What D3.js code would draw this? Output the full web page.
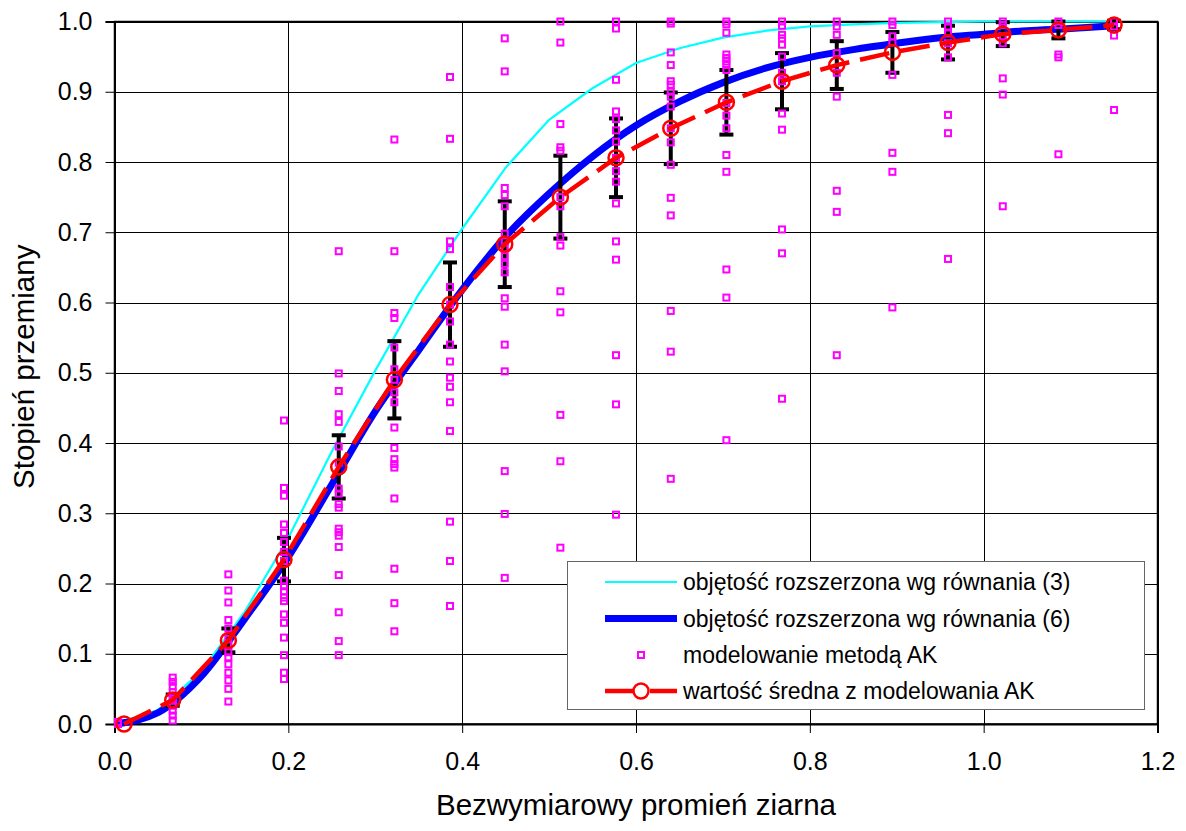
<!DOCTYPE html>
<html>
<head>
<meta charset="utf-8">
<script src="https://cdn.jsdelivr.net/npm/d3@7"></script>
<style>
  html, body { margin: 0; padding: 0; background: #fff; }
  svg { display: block; font-family: "Liberation Sans", Arial, sans-serif; }
</style>
</head>
<body>
<svg id="chart" width="1186" height="831"></svg>
<script>
// ---------------- DATA ----------------
const xTicks = [0.0, 0.2, 0.4, 0.6, 0.8, 1.0, 1.2];
const yTicks = [0.0, 0.1, 0.2, 0.3, 0.4, 0.5, 0.6, 0.7, 0.8, 0.9, 1.0];

const curveX = [0, 0.05, 0.10, 0.15, 0.20, 0.25, 0.30, 0.35, 0.40, 0.45, 0.50, 0.55,
                0.60, 0.65, 0.70, 0.75, 0.80, 0.85, 0.90, 0.95, 1.00, 1.05, 1.10, 1.15];
// objętość rozszerzona wg równania (3)
const eq3Y = [0, 0.020, 0.075, 0.160, 0.265, 0.388, 0.503, 0.612, 0.705, 0.792, 0.860, 0.905,
              0.941, 0.962, 0.977, 0.987, 0.993, 0.996, 0.998, 0.999, 1.000, 1.000, 1.000, 1.000];
// objętość rozszerzona wg równania (6)
const eq6Y = [0, 0.016, 0.068, 0.150, 0.238, 0.341, 0.445, 0.532, 0.618, 0.694, 0.755, 0.808,
              0.852, 0.886, 0.913, 0.934, 0.949, 0.960, 0.969, 0.977, 0.982, 0.987, 0.990, 0.994];

// modelowanie metodą AK: column positions and values
const akX = [0.004, 0.067, 0.131, 0.195, 0.258, 0.322, 0.386, 0.449, 0.513, 0.577,
             0.640, 0.704, 0.768, 0.831, 0.895, 0.959, 1.022, 1.086, 1.150];
const akValues = [
  [0, 0, 0.003],
  [0.066, 0.060, 0.054, 0.045, 0.036, 0.033, 0.026, 0.019, 0.012, 0.005],
  [0.213, 0.190, 0.173, 0.148, 0.136, 0.121, 0.112, 0.102, 0.095, 0.085, 0.073, 0.062, 0.050, 0.032],
  [0.432, 0.336, 0.325, 0.284, 0.272, 0.259, 0.245, 0.232, 0.204, 0.196, 0.189, 0.180, 0.175, 0.156, 0.144, 0.123, 0.098, 0.073, 0.064],
  [0.673, 0.499, 0.474, 0.441, 0.430, 0.395, 0.372, 0.335, 0.328, 0.313, 0.308, 0.278, 0.273, 0.268, 0.252, 0.212, 0.159, 0.118, 0.098],
  [0.832, 0.673, 0.585, 0.578, 0.536, 0.505, 0.490, 0.472, 0.458, 0.422, 0.393, 0.377, 0.370, 0.365, 0.321, 0.221, 0.172, 0.132],
  [0.921, 0.833, 0.687, 0.676, 0.622, 0.597, 0.573, 0.540, 0.516, 0.493, 0.480, 0.458, 0.417, 0.288, 0.232, 0.168],
  [0.976, 0.929, 0.763, 0.753, 0.737, 0.698, 0.687, 0.677, 0.666, 0.655, 0.643, 0.606, 0.594, 0.540, 0.502, 0.360, 0.299, 0.208],
  [1.000, 0.970, 0.854, 0.821, 0.816, 0.750, 0.737, 0.693, 0.681, 0.616, 0.586, 0.440, 0.374, 0.251],
  [1.000, 0.990, 0.917, 0.872, 0.861, 0.845, 0.829, 0.806, 0.787, 0.772, 0.741, 0.687, 0.661, 0.525, 0.455, 0.298],
  [1.000, 0.997, 0.956, 0.938, 0.915, 0.910, 0.900, 0.893, 0.879, 0.848, 0.828, 0.796, 0.749, 0.724, 0.588, 0.530, 0.349],
  [1.000, 0.996, 0.984, 0.953, 0.948, 0.943, 0.938, 0.931, 0.884, 0.866, 0.848, 0.810, 0.786, 0.647, 0.607, 0.404],
  [1.000, 0.994, 0.981, 0.976, 0.967, 0.950, 0.927, 0.915, 0.869, 0.846, 0.704, 0.670, 0.463],
  [1.000, 0.993, 0.981, 0.955, 0.927, 0.893, 0.759, 0.729, 0.525],
  [1.000, 0.995, 0.979, 0.970, 0.924, 0.813, 0.786, 0.593],
  [1.000, 0.993, 0.983, 0.969, 0.949, 0.867, 0.841, 0.662],
  [1.000, 0.995, 0.979, 0.969, 0.919, 0.896, 0.737],
  [1.000, 0.995, 0.953, 0.949, 0.811],
  [1.000, 0.993, 0.980, 0.874]
];

// wartość średna z modelowania AK
const meanX = [0.011, 0.067, 0.131, 0.195, 0.258, 0.322, 0.386, 0.449, 0.513, 0.577,
               0.640, 0.704, 0.768, 0.831, 0.895, 0.959, 1.022, 1.086, 1.150];
const meanY = [0.000, 0.034, 0.119, 0.234, 0.366, 0.490, 0.597, 0.683, 0.750, 0.806,
               0.848, 0.885, 0.915, 0.938, 0.956, 0.970, 0.982, 0.988, 0.995];
const meanErr = [0.000, 0.008, 0.017, 0.031, 0.045, 0.055, 0.060, 0.061, 0.059, 0.056,
                 0.051, 0.046, 0.040, 0.034, 0.029, 0.024, 0.017, 0.012, 0.006];

const legendLabels = [
  "objętość rozszerzona wg równania (3)",
  "objętość rozszerzona wg równania (6)",
  "modelowanie metodą AK",
  "wartość średna z modelowania AK"
];
const xTitle = "Bezwymiarowy promień ziarna";
const yTitle = "Stopień przemiany";

// ---------------- CHART ----------------
const svg = d3.select("#chart");
const L = 114.5, R = 1157.5, T = 21.5, B = 724;
const x = d3.scaleLinear().domain([0, 1.2]).range([L, R]);
const y = d3.scaleLinear().domain([0, 1]).range([B, T]);

// grid
const grid = svg.append("g");
grid.selectAll("line.h").data(yTicks).join("line")
  .attr("x1", L).attr("x2", R)
  .attr("y1", d => Math.round(y(d)) + 0.5).attr("y2", d => Math.round(y(d)) + 0.5)
  .attr("stroke", "#000").attr("stroke-width", 1);
grid.selectAll("line.v").data(xTicks).join("line")
  .attr("y1", T).attr("y2", B)
  .attr("x1", d => Math.round(x(d)) + 0.5).attr("x2", d => Math.round(x(d)) + 0.5)
  .attr("stroke", "#000").attr("stroke-width", 1);

// plot border
svg.append("rect").attr("x", L).attr("y", T).attr("width", R - L).attr("height", B - T)
  .attr("fill", "none").attr("stroke", "#000").attr("stroke-width", 1.5);

// axes
const fontTick = 25;
const yAxis = svg.append("g").attr("transform", `translate(${L},0)`)
  .call(d3.axisLeft(y).tickValues(yTicks).tickFormat(d3.format(".1f")).tickSize(9).tickPadding(13));
const xAxis = svg.append("g").attr("transform", `translate(0,${B})`)
  .call(d3.axisBottom(x).tickValues(xTicks).tickFormat(d3.format(".1f")).tickSize(9).tickPadding(19));
[yAxis, xAxis].forEach(a => {
  a.select(".domain").attr("stroke", "#000").attr("stroke-width", 2);
  a.selectAll(".tick line").attr("stroke", "#000").attr("stroke-width", 1);
  a.selectAll(".tick text").attr("fill", "#000").style("font-size", fontTick + "px")
    .style("font-family", '"Liberation Sans", Arial, sans-serif');
});

// axis titles
svg.append("text").attr("x", (L + R) / 2).attr("y", 815)
  .attr("text-anchor", "middle").style("font-size", "29.5px").attr("fill", "#000").text(xTitle);
svg.append("text").attr("transform", `translate(34,${(T + B) / 2 - 6}) rotate(-90)`)
  .attr("text-anchor", "middle").style("font-size", "29.5px").attr("fill", "#000").text(yTitle);

// curves
svg.append("path").datum(d3.zip(curveX, eq3Y))
  .attr("d", d3.line().x(d => x(d[0])).y(d => y(d[1])).curve(d3.curveLinear))
  .attr("fill", "none").attr("stroke", "#00FFFF").attr("stroke-width", 2.2);
svg.append("path").datum(d3.zip(curveX, eq6Y))
  .attr("d", d3.line().x(d => x(d[0])).y(d => y(d[1])).curve(d3.curveMonotoneX))
  .attr("fill", "none").attr("stroke", "#0000FF").attr("stroke-width", 7);

// error bars
const means = meanX.map((mx, i) => ({ x: mx, y: meanY[i], e: meanErr[i] }));
const withErr = means.filter(d => d.e > 0);
const eb = svg.append("g").attr("stroke", "#000").attr("stroke-width", 4);
eb.selectAll("line.bar").data(withErr).join("line")
  .attr("x1", d => x(d.x)).attr("x2", d => x(d.x))
  .attr("y1", d => y(d.y - d.e)).attr("y2", d => y(d.y + d.e));
eb.selectAll("line.capT").data(withErr).join("line")
  .attr("x1", d => x(d.x) - 7).attr("x2", d => x(d.x) + 7)
  .attr("y1", d => y(d.y + d.e)).attr("y2", d => y(d.y + d.e));
eb.selectAll("line.capB").data(withErr).join("line")
  .attr("x1", d => x(d.x) - 7).attr("x2", d => x(d.x) + 7)
  .attr("y1", d => y(d.y - d.e)).attr("y2", d => y(d.y - d.e));

// AK scatter squares
const pts = [];
akValues.forEach((col, i) => col.forEach(v => pts.push({ x: akX[i], y: v })));
svg.append("g").selectAll("rect").data(pts).join("rect")
  .attr("x", d => x(d.x) - 3).attr("y", d => y(d.y) - 3)
  .attr("width", 6).attr("height", 6)
  .attr("fill", "none").attr("stroke", "#FF00FF").attr("stroke-width", 2);

// mean line
svg.append("path").datum(means)
  .attr("d", d3.line().x(d => x(d.x)).y(d => y(d.y)))
  .attr("fill", "none").attr("stroke", "#FF0000").attr("stroke-width", 4.5)
  .attr("stroke-dasharray", "30,11");
svg.append("g").selectAll("circle").data(means).join("circle")
  .attr("cx", d => x(d.x)).attr("cy", d => y(d.y)).attr("r", 7.5)
  .attr("fill", "none").attr("stroke", "#FF0000").attr("stroke-width", 2.5);

// legend
const lg = svg.append("g");
lg.append("rect").attr("x", 567.5).attr("y", 561.5).attr("width", 577).attr("height", 148)
  .attr("fill", "#fff").attr("stroke", "#666").attr("stroke-width", 1);
const rowY = [582, 618.5, 655, 691];
const lx1 = 605, lx2 = 677, lcx = 641;
lg.append("line").attr("x1", lx1).attr("x2", lx2).attr("y1", rowY[0]).attr("y2", rowY[0])
  .attr("stroke", "#00FFFF").attr("stroke-width", 2.2);
lg.append("line").attr("x1", lx1).attr("x2", lx2).attr("y1", rowY[1]).attr("y2", rowY[1])
  .attr("stroke", "#0000FF").attr("stroke-width", 7);
lg.append("rect").attr("x", lcx - 3).attr("y", rowY[2] - 3).attr("width", 6).attr("height", 6)
  .attr("fill", "none").attr("stroke", "#FF00FF").attr("stroke-width", 2);
lg.append("line").attr("x1", lx1).attr("x2", lx2).attr("y1", rowY[3]).attr("y2", rowY[3])
  .attr("stroke", "#FF0000").attr("stroke-width", 4.5).attr("stroke-dasharray", "33,12");
lg.append("circle").attr("cx", lcx).attr("cy", rowY[3]).attr("r", 7.5)
  .attr("fill", "#fff").attr("stroke", "#FF0000").attr("stroke-width", 2.5);
lg.selectAll("text").data(legendLabels).join("text")
  .attr("x", 683).attr("y", (d, i) => rowY[i]).attr("dy", "0.35em")
  .style("font-size", "23px").attr("fill", "#000").text(d => d);
</script>
</body>
</html>
